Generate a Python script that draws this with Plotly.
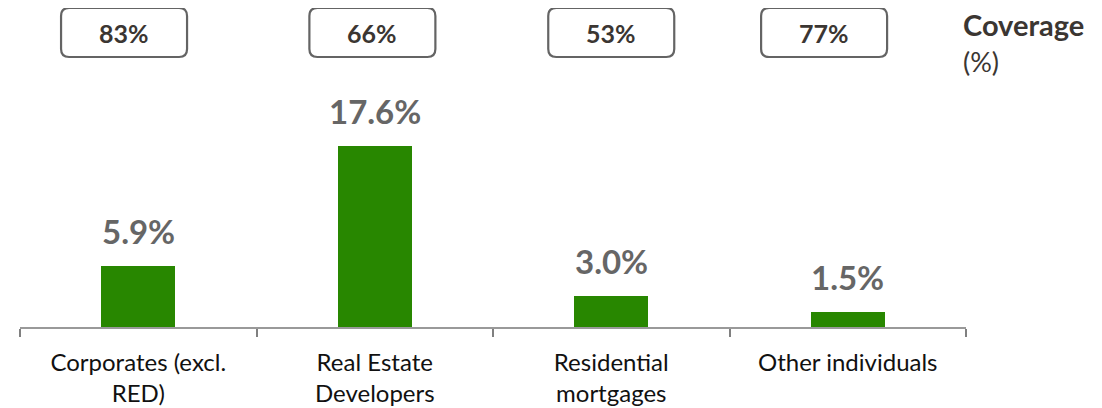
import plotly.graph_objects as go

categories = ["Corporates (excl.<br>RED)", "Real Estate<br>Developers", "Residential<br>mortgages", "Other individuals"]
npl_ratio = [5.9, 17.6, 3.0, 1.5]
coverage = [83, 66, 53, 77]
npl_labels = ["5.9%", "17.6%", "3.0%", "1.5%"]
coverage_labels = ["83%", "66%", "53%", "77%"]

OFF = 8  # page body margin
W, H = 1102 - OFF, 408 - OFF
L, R, T, B = 12, 136, 52, 81
plot_w = W - L - R
plot_h = H - T - B


def px_x(px):
    return (px - OFF - L) / plot_w


def px_y(py):
    return (OFF + H - B - py) / plot_h


GREEN = "#288700"

fig = go.Figure()
fig.add_trace(go.Bar(
    x=list(range(len(categories))), y=npl_ratio,
    marker=dict(color=GREEN, line=dict(width=0)),
    width=0.313, hoverinfo="skip",
))

annotations = []
for i, (v, lab) in enumerate(zip(npl_ratio, npl_labels)):
    annotations.append(dict(
        x=i, y=v, xref="x", yref="y", text=f"<b>{lab}</b>", showarrow=False,
        yanchor="bottom", yshift=13,
        font=dict(family="Lato", size=33, color="#666666"),
    ))

# coverage boxes (layout offsets in category units)
box_offsets = [-0.06, -0.01, 0.0, -0.1]
half_w = 63 / plot_w
rx = 8 / plot_w
ry = 8 / plot_h
y_top = px_y(8)
y_bot = px_y(57)
shapes = []
for i, (c, lab) in enumerate(zip(coverage, coverage_labels)):
    cx = (i + 0.5 + box_offsets[i]) / len(categories)
    x0, x1 = cx - half_w, cx + half_w
    y0, y1 = y_bot, y_top
    path = (f"M {x0+rx},{y0} L {x1-rx},{y0} Q {x1},{y0} {x1},{y0+ry} "
            f"L {x1},{y1-ry} Q {x1},{y1} {x1-rx},{y1} L {x0+rx},{y1} "
            f"Q {x0},{y1} {x0},{y1-ry} L {x0},{y0+ry} Q {x0},{y0} {x0+rx},{y0} Z")
    shapes.append(dict(type="path", path=path, xref="paper", yref="paper",
                       line=dict(color="#646464", width=2.2), fillcolor="white", layer="above"))
    annotations.append(dict(
        x=cx, y=(y0 + y1) / 2, xref="paper", yref="paper", text=f"<b>{lab}</b>",
        showarrow=False, xanchor="center", yanchor="middle",
        font=dict(family="Lato", size=25, color="#3b3632"),
    ))

annotations.append(dict(
    x=px_x(962), y=px_y(25), xref="paper", yref="paper",
    text="<b>Coverage</b>", showarrow=False, xanchor="left", yanchor="middle",
    borderpad=0,
    font=dict(family="Lato", size=29, color="#3b3632"),
))
annotations.append(dict(
    x=px_x(962), y=px_y(61), xref="paper", yref="paper",
    text="(%)", showarrow=False, xanchor="left", yanchor="middle",
    borderpad=0,
    font=dict(family="Lato", size=27, color="#3b3632"),
))

fig.update_layout(
    width=W, height=H,
    margin=dict(l=L, r=R, t=T, b=B, pad=0, autoexpand=False),
    paper_bgcolor="white", plot_bgcolor="white",
    showlegend=False,
    bargap=0,
    annotations=annotations,
    shapes=shapes,
    xaxis=dict(
        type="category", tickmode="array",
        tickvals=list(range(len(categories))), ticktext=categories,
        range=[-0.5, len(categories) - 0.5],
        tickson="boundaries", ticks="outside", ticklen=8, tickwidth=1.5, tickcolor="#808080",
        showline=True, linecolor="#999999", linewidth=2,
        showgrid=False, zeroline=False, automargin=False,
        tickfont=dict(family="Lato", size=24, color="#111111"),
        ticklabelstandoff=13,
    ),
    yaxis=dict(range=[0, plot_h / 10.3], visible=False, showgrid=False, zeroline=False,
               automargin=False),
)

fig.write_html("out.html")
